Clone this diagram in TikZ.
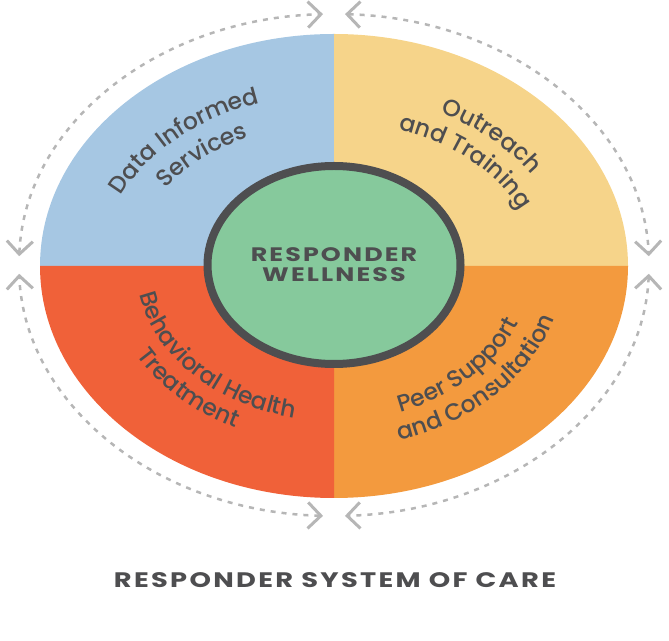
\documentclass[tikz,border=0pt]{standalone}
\usepackage{fontspec}
\setmainfont{Poppins}
\newfontfamily\widefont{Poppins}[LetterSpace=11,FakeStretch=1.3]
\newfontfamily\medfont{Poppins Medium}
\usetikzlibrary{arrows.meta,decorations.text,shapes.geometric}
\definecolor{cblue}{RGB}{166,199,227}
\definecolor{cyellow}{RGB}{246,212,138}
\definecolor{cred}{RGB}{240,97,57}
\definecolor{corange}{RGB}{243,154,62}
\definecolor{cgreen}{RGB}{134,201,156}
\definecolor{cdark}{RGB}{78,78,80}
\definecolor{cdash}{RGB}{182,182,182}
\newcommand\curvefont{\medfont\fontsize{23.5}{23.5}\selectfont\color{cdark}}
\begin{document}
\begin{tikzpicture}[x=1pt,y=1pt,
  chev/.tip={Straight Barb[length=13pt,width=26pt,line width=3pt]},
  ring/.style={cdash, line width=2.5pt, dash pattern=on 5pt off 6pt, chev-chev},
  curved/.style={decorate, decoration={text along path, text align=center, text={|\curvefont|#1}}}
]
\useasboundingbox (0,0) rectangle (669,640);
\coordinate (C) at (334,374);
\coordinate (R) at (334,375);
% quadrants
\fill[cblue] (C) -- ++(-294pt,0) arc[start angle=180, end angle=90, x radius=294pt, y radius=232pt] -- cycle;
\fill[cyellow] (C) -- ++(0,232pt) arc[start angle=90, end angle=0, x radius=294pt, y radius=232pt] -- cycle;
\fill[corange] (C) -- ++(294pt,0) arc[start angle=0, end angle=-90, x radius=294pt, y radius=232pt] -- cycle;
\fill[cred] (C) -- ++(0,-232pt) arc[start angle=270, end angle=180, x radius=294pt, y radius=232pt] -- cycle;
% dashed ring
\draw[ring] (R) ++(178:315pt and 251pt) arc[start angle=178, end angle=92, x radius=315pt, y radius=251pt];
\draw[ring] (R) ++(88:315pt and 251pt) arc[start angle=88, end angle=2, x radius=315pt, y radius=251pt];
\draw[ring] (R) ++(-2:315pt and 251pt) arc[start angle=-2, end angle=-88, x radius=315pt, y radius=251pt];
\draw[ring] (R) ++(268:315pt and 251pt) arc[start angle=268, end angle=182, x radius=315pt, y radius=251pt];
% curved labels
\path[curved={Data Informed}] (C) ++(183:233pt and 172pt) arc[start angle=183, end angle=88, x radius=233pt, y radius=172pt];
\path[curved={Services}] (C) ++(183:201pt and 142pt) arc[start angle=183, end angle=88, x radius=201pt, y radius=142pt];
\path[curved={Outreach}] (C) ++(90:233pt and 172pt) arc[start angle=90, end angle=-3, x radius=233pt, y radius=172pt];
\path[curved={and Training}] (C) ++(91:202pt and 144pt) arc[start angle=91, end angle=-4, x radius=202pt, y radius=144pt];
\path[curved={Behavioral Health}] (C) ++(176:198pt and 155pt) arc[start angle=176, end angle=270, x radius=198pt, y radius=155pt];
\path[curved={Treatment}] (C) ++(177:227pt and 180pt) arc[start angle=177, end angle=271, x radius=227pt, y radius=180pt];
\path[curved={Peer Support}] (C) ++(270:198pt and 155pt) arc[start angle=270, end angle=363, x radius=198pt, y radius=155pt];
\path[curved={and Consultation}] (C) ++(270:230pt and 182pt) arc[start angle=270, end angle=364, x radius=230pt, y radius=182pt];
% core
\node[ellipse, draw=cdark, line width=8pt, fill=cgreen, minimum width=253pt, minimum height=198pt, inner sep=0pt,
  text=cdark, align=center, font=\widefont\bfseries\fontsize{19.5}{20}\selectfont] (core) at (334,375) {RESPONDER\\WELLNESS};
\node[text=cdark, font=\widefont\bfseries\fontsize{21}{21}\selectfont] (title) at (335,60) {RESPONDER SYSTEM OF CARE};
\end{tikzpicture}
\end{document}
